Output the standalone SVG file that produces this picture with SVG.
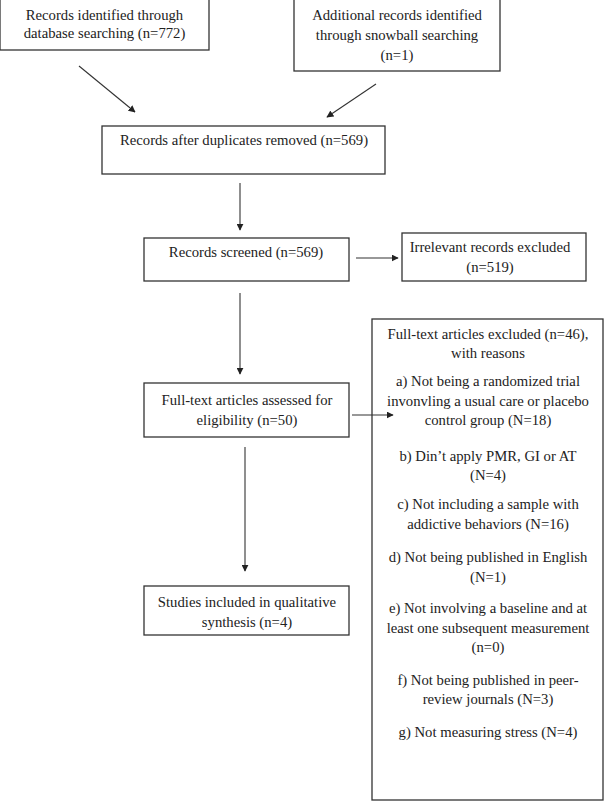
<svg xmlns="http://www.w3.org/2000/svg" width="605" height="802" viewBox="0 0 605 802">
<style>
.box{fill:#fff;stroke:#333;stroke-width:1.3}
.t{font-family:"Liberation Serif","Times New Roman",serif;font-size:14.7px;fill:#222;text-anchor:middle}
.c{stroke:#333;stroke-width:1.1;fill:none;marker-end:url(#ah)}
</style>
<defs>
<marker id="ah" viewBox="0 0 10 10" refX="9" refY="5" markerWidth="7" markerHeight="7" markerUnits="userSpaceOnUse" orient="auto">
<path d="M0,0 L10,5 L0,10 z" fill="#222"/>
</marker>
</defs>
<rect width="605" height="802" fill="#fff"/>
<g id="n1">
<rect class="box" x="0" y="-1" width="209" height="51"/>
<text class="t" x="104.5" y="20">Records identified through</text>
<text class="t" x="104.5" y="38">database searching (n=772)</text>
</g>
<g id="n2">
<rect class="box" x="294" y="-1" width="206" height="72"/>
<text class="t" x="397" y="20">Additional records identified</text>
<text class="t" x="397" y="40">through snowball searching</text>
<text class="t" x="397" y="60">(n=1)</text>
</g>
<g id="n3">
<rect class="box" x="102" y="126" width="283" height="48"/>
<text class="t" x="244" y="145">Records after duplicates removed (n=569)</text>
</g>
<g id="n4">
<rect class="box" x="144" y="238" width="205" height="43"/>
<text class="t" x="246" y="257">Records screened (n=569)</text>
</g>
<g id="n5">
<rect class="box" x="402" y="233" width="184" height="48"/>
<text class="t" x="490" y="252">Irrelevant records excluded</text>
<text class="t" x="490" y="272">(n=519)</text>
</g>
<g id="n6">
<rect class="box" x="144" y="383" width="205" height="54"/>
<text class="t" x="247" y="405">Full-text articles assessed for</text>
<text class="t" x="247" y="425">eligibility (n=50)</text>
</g>
<g id="n7">
<rect class="box" x="144" y="586" width="205" height="49"/>
<text class="t" x="247" y="607">Studies included in qualitative</text>
<text class="t" x="247" y="627">synthesis (n=4)</text>
</g>
<g id="n8">
<rect class="box" x="372" y="319" width="231" height="481"/>
<text class="t" x="488" y="339">Full-text articles excluded (n=46),</text>
<text class="t" x="488" y="358">with reasons</text>
<text class="t" x="488" y="386">a) Not being a randomized trial</text>
<text class="t" x="488" y="406">invonvling a usual care or placebo</text>
<text class="t" x="488" y="425">control group (N=18)</text>
<text class="t" x="488" y="461">b) Din’t apply PMR, GI or AT</text>
<text class="t" x="488" y="480">(N=4)</text>
<text class="t" x="488" y="509">c) Not including a sample with</text>
<text class="t" x="488" y="529">addictive behaviors (N=16)</text>
<text class="t" x="488" y="562">d) Not being published in English</text>
<text class="t" x="488" y="582">(N=1)</text>
<text class="t" x="488" y="613">e) Not involving a baseline and at</text>
<text class="t" x="488" y="633">least one subsequent measurement</text>
<text class="t" x="488" y="652">(n=0)</text>
<text class="t" x="488" y="685">f) Not being published in peer-</text>
<text class="t" x="488" y="704">review journals (N=3)</text>
<text class="t" x="488" y="737">g) Not measuring stress (N=4)</text>
</g>
<g id="connectors">
<line class="c" x1="79" y1="66" x2="135" y2="112"/>
<line class="c" x1="376" y1="84" x2="327" y2="117"/>
<line class="c" x1="240" y1="183" x2="240" y2="230"/>
<line class="c" x1="356" y1="258" x2="398" y2="258"/>
<line class="c" x1="240" y1="293" x2="240" y2="374"/>
<line class="c" x1="352" y1="415" x2="393" y2="415"/>
<line class="c" x1="245" y1="447" x2="245" y2="571"/>
</g>
</svg>
